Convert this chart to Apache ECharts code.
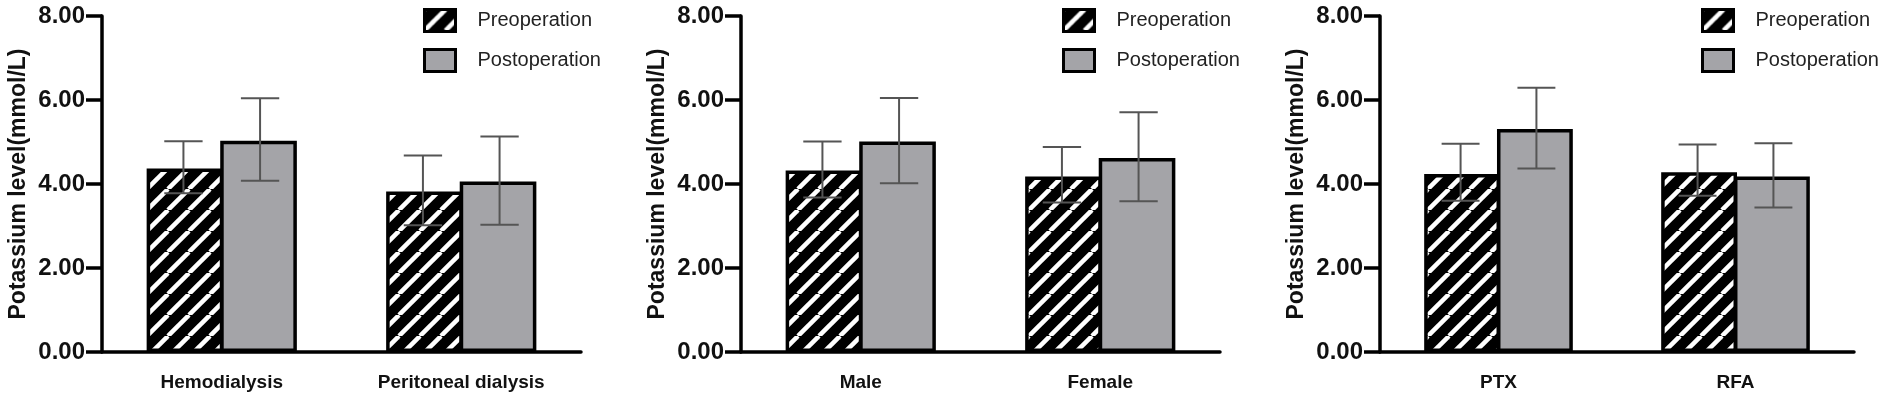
<!DOCTYPE html>
<html>
<head>
<meta charset="utf-8">
<title>Potassium level</title>
<script src="https://cdn.jsdelivr.net/npm/echarts@6/dist/echarts.min.js"></script>
<style>
  html, body { margin: 0; padding: 0; background: #fff; }
  #main { width: 1902px; height: 401px; }
</style>
</head>
<body>
<div id="main"></div>
<script type="text/javascript">
// categories of the three panels
var cats1 = ['Hemodialysis', 'Peritoneal dialysis'];
var cats2 = ['Male', 'Female'];
var cats3 = ['PTX', 'RFA'];

// mean values
var pre1 = [4.37, 3.82];
var post1 = [5.03, 4.06];
var pre2 = [4.32, 4.18];
var post2 = [5.01, 4.62];
var pre3 = [4.24, 4.28];
var post3 = [5.31, 4.18];

// error bars [low, high]
var preErr1 = [[3.78, 5.02], [3.02, 4.68]];
var postErr1 = [[4.08, 6.04], [3.03, 5.13]];
var preErr2 = [[3.68, 5.01], [3.56, 4.88]];
var postErr2 = [[4.02, 6.05], [3.59, 5.71]];
var preErr3 = [[3.60, 4.96], [3.72, 4.94]];
var postErr3 = [[4.37, 6.29], [3.44, 4.97]];

var yTicks = [0, 2, 4, 6, 8];

var FONT = 'Liberation Sans, Arial, Helvetica, sans-serif';
var GRAY = '#a4a4a8';
var BAR_FRAC = 0.32;

// black with white "/" stripes
function makeHatch() {
  var s = 21;
  var c = document.createElement('canvas');
  c.width = s; c.height = s;
  var g = c.getContext('2d');
  g.fillStyle = '#000';
  g.fillRect(0, 0, s, s);
  g.strokeStyle = '#fff';
  g.lineWidth = 4.5;
  for (var k = -1; k <= 1; k++) {
    g.beginPath();
    g.moveTo(k * s, s);
    g.lineTo(k * s + s, 0);
    g.stroke();
  }
  return c;
}
var hatch = { image: makeHatch(), repeat: 'repeat' };

var panels = [
  { cats: cats1, pre: pre1, post: post1, preErr: preErr1, postErr: postErr1, off: 0, w: 479 },
  { cats: cats2, pre: pre2, post: post2, preErr: preErr2, postErr: postErr2, off: 639, w: 479 },
  { cats: cats3, pre: pre3, post: post3, preErr: preErr3, postErr: postErr3, off: 1278, w: 474 }
];

function errData(err) {
  return err.map(function (e, i) { return [i, e[0], e[1]]; });
}

function errRender(sign) {
  return function (params, api) {
    var band = api.size([1, 0])[0];
    var lo = api.coord([api.value(0), api.value(1)]);
    var hi = api.coord([api.value(0), api.value(2)]);
    var x = lo[0] + sign * band * BAR_FRAC / 2;
    var hw = band * BAR_FRAC / 4;
    var st = { stroke: '#555', lineWidth: 2 };
    return {
      type: 'group',
      children: [
        { type: 'line', shape: { x1: x, y1: lo[1], x2: x, y2: hi[1] }, style: st },
        { type: 'line', shape: { x1: x - hw, y1: hi[1], x2: x + hw, y2: hi[1] }, style: st },
        { type: 'line', shape: { x1: x - hw, y1: lo[1], x2: x + hw, y2: lo[1] }, style: st }
      ]
    };
  };
}

var grids = [], xAxes = [], yAxes = [], series = [], legends = [];

panels.forEach(function (p, i) {
  grids.push({ left: 102 + p.off, top: 16, width: p.w, height: 336 });
  xAxes.push({
    type: 'category', gridIndex: i, data: p.cats,
    axisLine: { lineStyle: { color: '#000', width: 3.5 } },
    axisTick: { alignWithLabel: true, length: 15, lineStyle: { color: '#000', width: 3.5 } },
    axisLabel: { color: '#111', fontFamily: FONT, fontWeight: 'bold', fontSize: 19, margin: 21 }
  });
  yAxes.push({
    type: 'value', gridIndex: i, min: yTicks[0], max: yTicks[yTicks.length - 1], interval: 2,
    name: 'Potassium level(mmol/L)', nameLocation: 'middle', nameGap: 72,
    nameTextStyle: { color: '#111', fontFamily: FONT, fontWeight: 'bold', fontSize: 23 },
    axisLine: { show: true, lineStyle: { color: '#000', width: 3.5 } },
    axisTick: { show: true, length: 16, lineStyle: { color: '#000', width: 3.5 } },
    axisLabel: {
      color: '#111', fontFamily: FONT, fontWeight: 'bold', fontSize: 24, margin: 17,
      formatter: function (v) { return v.toFixed(2); }
    },
    splitLine: { show: false }
  });
  series.push({
    name: 'Preoperation', type: 'bar', xAxisIndex: i, yAxisIndex: i, data: p.pre,
    barWidth: (BAR_FRAC * 100) + '%', barGap: '-4%',
    itemStyle: { color: hatch, borderColor: '#000', borderWidth: 3.5 }
  });
  series.push({
    name: 'Postoperation', type: 'bar', xAxisIndex: i, yAxisIndex: i, data: p.post,
    barWidth: (BAR_FRAC * 100) + '%', barGap: '-4%',
    itemStyle: { color: GRAY, borderColor: '#000', borderWidth: 3.5 }
  });
  series.push({
    name: 'preErr' + i, type: 'custom', xAxisIndex: i, yAxisIndex: i, z: 5,
    data: errData(p.preErr), renderItem: errRender(-1), silent: true
  });
  series.push({
    name: 'postErr' + i, type: 'custom', xAxisIndex: i, yAxisIndex: i, z: 5,
    data: errData(p.postErr), renderItem: errRender(1), silent: true
  });
  legends.push({
    data: ['Preoperation', 'Postoperation'],
    orient: 'vertical', left: 423 + p.off, top: 8, padding: 0,
    itemWidth: 31, itemHeight: 22, itemGap: 15, icon: 'rect',
    itemStyle: { borderColor: '#000', borderWidth: 3 },
    textStyle: { color: '#222', fontFamily: FONT, fontSize: 20, lineHeight: 22, padding: [0, 0, 0, 17] },
    selectedMode: false
  });
});

var myChart = echarts.init(document.getElementById('main'));
var option = {
  animation: false,
  backgroundColor: '#fff',
  grid: grids,
  xAxis: xAxes,
  yAxis: yAxes,
  legend: legends,
  series: series
};
myChart.setOption(option);
</script>
</body>
</html>
